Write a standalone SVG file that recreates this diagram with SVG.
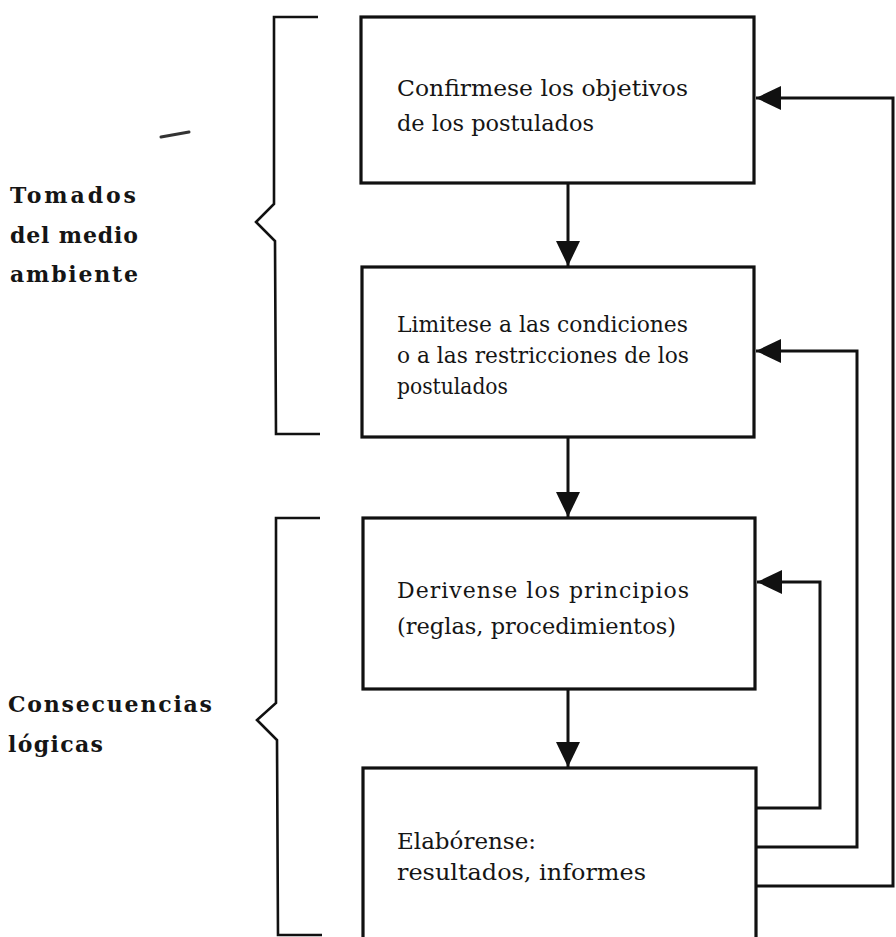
<svg xmlns="http://www.w3.org/2000/svg" width="896" height="937" viewBox="0 0 896 937">
<style>
.box{fill:#fff;stroke:#111;stroke-width:3.2}
.ln{fill:none;stroke:#111;stroke-width:3}
.br{fill:none;stroke:#111;stroke-width:2.6;stroke-linejoin:miter}
.t{font-family:"DejaVu Serif","Liberation Serif",serif;font-size:22px;fill:#151515}
.lb{font-family:"DejaVu Serif","Liberation Serif",serif;font-size:22px;font-weight:bold;fill:#151515}
</style>
<defs>
<marker id="ahb" viewBox="0 0 25 24" refX="25" refY="12" markerWidth="25" markerHeight="24" markerUnits="userSpaceOnUse" orient="auto">
<path d="M0,0 L25,12 L0,24 z" fill="#111"/>
</marker>
</defs>
<rect width="896" height="937" fill="#fff"/>

<g id="stray"><path d="M161,137 L189,132" stroke="#333" stroke-width="3" stroke-linecap="round"/></g>

<g id="brace-top">
<path class="br" d="M318,17 L274,17 L274,204 L256,222 L275,241 L276,434 L320,434"/>
<text class="lb" x="10" y="203" textLength="126" lengthAdjust="spacing">Tomados</text>
<text class="lb" x="10" y="243" textLength="128" lengthAdjust="spacing">del medio</text>
<text class="lb" x="10" y="282" textLength="128" lengthAdjust="spacing">ambiente</text>
</g>

<g id="brace-bottom">
<path class="br" d="M320,518 L276,518 L276,703 L257,720 L277,740 L278,935 L322,935"/>
<text class="lb" x="8" y="712" textLength="204" lengthAdjust="spacing">Consecuencias</text>
<text class="lb" x="8" y="752" textLength="95" lengthAdjust="spacing">lógicas</text>
</g>

<g id="box1">
<rect class="box" x="361" y="17" width="393" height="166"/>
<text class="t" x="397" y="96" textLength="291" lengthAdjust="spacingAndGlyphs">Confirmese los objetivos</text>
<text class="t" x="397" y="131" textLength="197" lengthAdjust="spacingAndGlyphs">de los postulados</text>
</g>

<g id="box2">
<rect class="box" x="362" y="267" width="392" height="170"/>
<text class="t" x="397" y="332" textLength="291" lengthAdjust="spacingAndGlyphs">Limitese a las condiciones</text>
<text class="t" x="397" y="363" textLength="292" lengthAdjust="spacingAndGlyphs">o a las restricciones de los</text>
<text class="t" x="397" y="394" textLength="111" lengthAdjust="spacingAndGlyphs">postulados</text>
</g>

<g id="box3">
<rect class="box" x="363" y="518" width="392" height="171"/>
<text class="t" x="397" y="598" textLength="292" lengthAdjust="spacing">Derivense los principios</text>
<text class="t" x="397" y="634" textLength="279" lengthAdjust="spacingAndGlyphs">(reglas, procedimientos)</text>
</g>

<g id="box4">
<rect class="box" x="363" y="768" width="393" height="180"/>
<text class="t" x="397" y="849" textLength="139" lengthAdjust="spacingAndGlyphs">Elabórense:</text>
<text class="t" x="397" y="880" textLength="249" lengthAdjust="spacingAndGlyphs">resultados, informes</text>
</g>

<g id="connectors">
<path class="ln" d="M568,184 L568,266" marker-end="url(#ahb)"/>
<path class="ln" d="M568,438 L568,517" marker-end="url(#ahb)"/>
<path class="ln" d="M568,690 L568,767" marker-end="url(#ahb)"/>
<path class="ln" d="M757,886 L893,886 L893,98 L756,98" marker-end="url(#ahb)"/>
<path class="ln" d="M757,847 L857,847 L857,351 L756,351" marker-end="url(#ahb)"/>
<path class="ln" d="M757,808 L820,808 L820,582 L757,582" marker-end="url(#ahb)"/>
</g>
</svg>
